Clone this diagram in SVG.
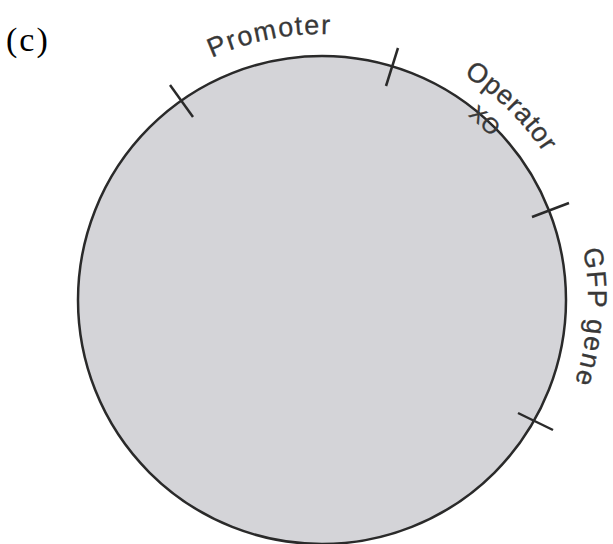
<svg xmlns="http://www.w3.org/2000/svg" xmlns:xlink="http://www.w3.org/1999/xlink" width="613" height="544" viewBox="0 0 613 544">
  <style>
    .lbl { font-family: "Liberation Sans", Arial, sans-serif; font-size: 27px; fill: #383838; stroke: #383838; stroke-width: 0.3; }
    .tick { stroke: #2a2a2a; stroke-width: 2.5; stroke-linecap: butt; fill: none; }
  </style>
  <defs>
    <path id="arcOut" d="M 56,300 A 266,266 0 1 1 588,300 A 266,266 0 1 1 56,300"/>
    <path id="arcXO" d="M 87,300 A 235,235 0 1 1 557,300 A 235,235 0 1 1 87,300"/>
  </defs>
  <rect width="613" height="544" fill="#ffffff"/>
  <g id="panel-label">
    <text x="6" y="51" font-family="'Liberation Serif', 'Times New Roman', serif" font-size="34" letter-spacing="2" fill="#000">(c)</text>
  </g>
  <g id="plasmid">
    <circle cx="322" cy="300" r="244" fill="#d4d4d8" stroke="#2a2a2a" stroke-width="2.5"/>
  </g>
  <g id="ticks">
    <line class="tick" x1="170" y1="85" x2="193" y2="117"/>
    <line class="tick" x1="398" y1="48" x2="386" y2="86"/>
    <line class="tick" x1="532" y1="217" x2="569" y2="203"/>
    <line class="tick" x1="518" y1="413" x2="553" y2="430"/>
  </g>
  <g id="promoter">
    <text class="lbl" letter-spacing="1.5"><textPath xlink:href="#arcOut" href="#arcOut" startOffset="304">Promoter</textPath></text>
  </g>
  <g id="operator">
    <text class="lbl" letter-spacing="0.8"><textPath xlink:href="#arcOut" href="#arcOut" startOffset="567">Operator</textPath></text>
    <text class="lbl" style="font-size:22px" fill="#2a2a2a"><textPath xlink:href="#arcXO" href="#arcXO" startOffset="526">XO</textPath></text>
  </g>
  <g id="gfp-gene">
    <text class="lbl" letter-spacing="1.8"><textPath xlink:href="#arcOut" href="#arcOut" startOffset="784">GFP gene</textPath></text>
  </g>
</svg>
